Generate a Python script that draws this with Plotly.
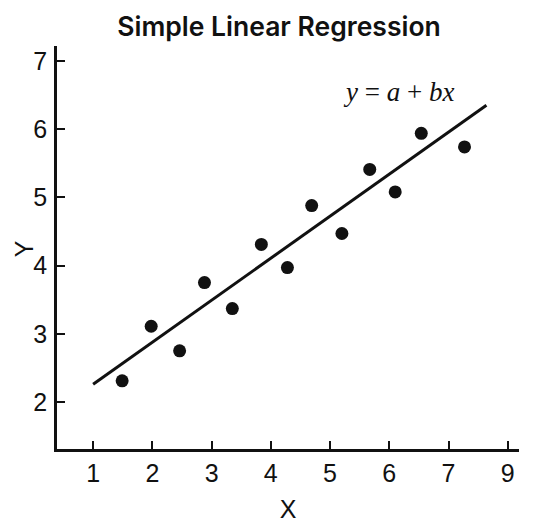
import plotly.graph_objects as go

# pontos observados
x_obs = [1.49, 1.98, 2.46, 2.88, 3.35, 3.84, 4.28, 4.69, 5.20, 5.67, 6.10, 6.54, 7.27]
y_obs = [2.31, 3.11, 2.75, 3.75, 3.37, 4.31, 3.97, 4.88, 4.47, 5.41, 5.08, 5.94, 5.74]

# reta ajustada (extremos)
x_fit = [1.0, 7.64]
y_fit = [2.26, 6.35]

# eixo x: o ultimo tick aparece como "9"
x_tickvals = [1, 2, 3, 4, 5, 6, 7, 8]
x_ticktext = ["1", "2", "3", "4", "5", "6", "7", "9"]
y_tickvals = [2, 3, 4, 5, 6, 7]

fig = go.Figure()
fig.add_trace(go.Scatter(
    x=x_fit, y=y_fit, mode="lines",
    line=dict(color="#111111", width=3),
    showlegend=False, hoverinfo="skip"
))
fig.add_trace(go.Scatter(
    x=x_obs, y=y_obs, mode="markers",
    marker=dict(color="#111111", size=13),
    showlegend=False
))

fig.add_annotation(
    x=7.13, y=6.54, xref="x", yref="y",
    xanchor="right", yanchor="middle",
    text="<i>y</i> = <i>a</i> + <i>bx</i>",
    showarrow=False,
    font=dict(family="Liberation Serif", size=27, color="#111111")
)

# titulo do eixo y como anotacao (o standoff fica preso na margem)
fig.add_annotation(
    x=-0.106, y=0.496, xref="paper", yref="paper",
    xanchor="left", yanchor="middle", textangle=-90,
    text="Y", showarrow=False,
    font=dict(family="Liberation Sans", size=25, color="#111111")
)

eixo = dict(
    showline=True, linecolor="#111111", linewidth=2.5,
    ticks="inside", ticklen=8, tickwidth=2, tickcolor="#111111",
    showgrid=False, zeroline=False, automargin=False,
    tickfont=dict(family="Liberation Sans", size=25, color="#111111"),
    title_font=dict(family="Liberation Sans", size=25, color="#111111"),
)

fig.update_xaxes(
    **eixo, range=[0.39, 8.19],
    tickvals=x_tickvals, ticktext=x_ticktext,
    ticklabelstandoff=0,
    title_text="X", title_standoff=15,
)
fig.update_yaxes(
    **eixo, range=[1.31, 7.22],
    tickvals=y_tickvals,
    ticklabelstandoff=2,
)

# a pagina tem margem de 8px no body: figura 8px menor e deslocada
fig.update_layout(
    width=527, height=524,
    margin=dict(l=49, r=16, t=38, b=83),
    plot_bgcolor="white", paper_bgcolor="white",
    title=dict(
        text="Simple Linear Regression",
        x=271 / 527, xanchor="center", xref="container",
        y=1 - 19 / 524, yanchor="middle", yref="container",
        font=dict(family="Inter", size=26.5, weight=600, color="#111111"),
    ),
)

fig.write_html("out.html")
